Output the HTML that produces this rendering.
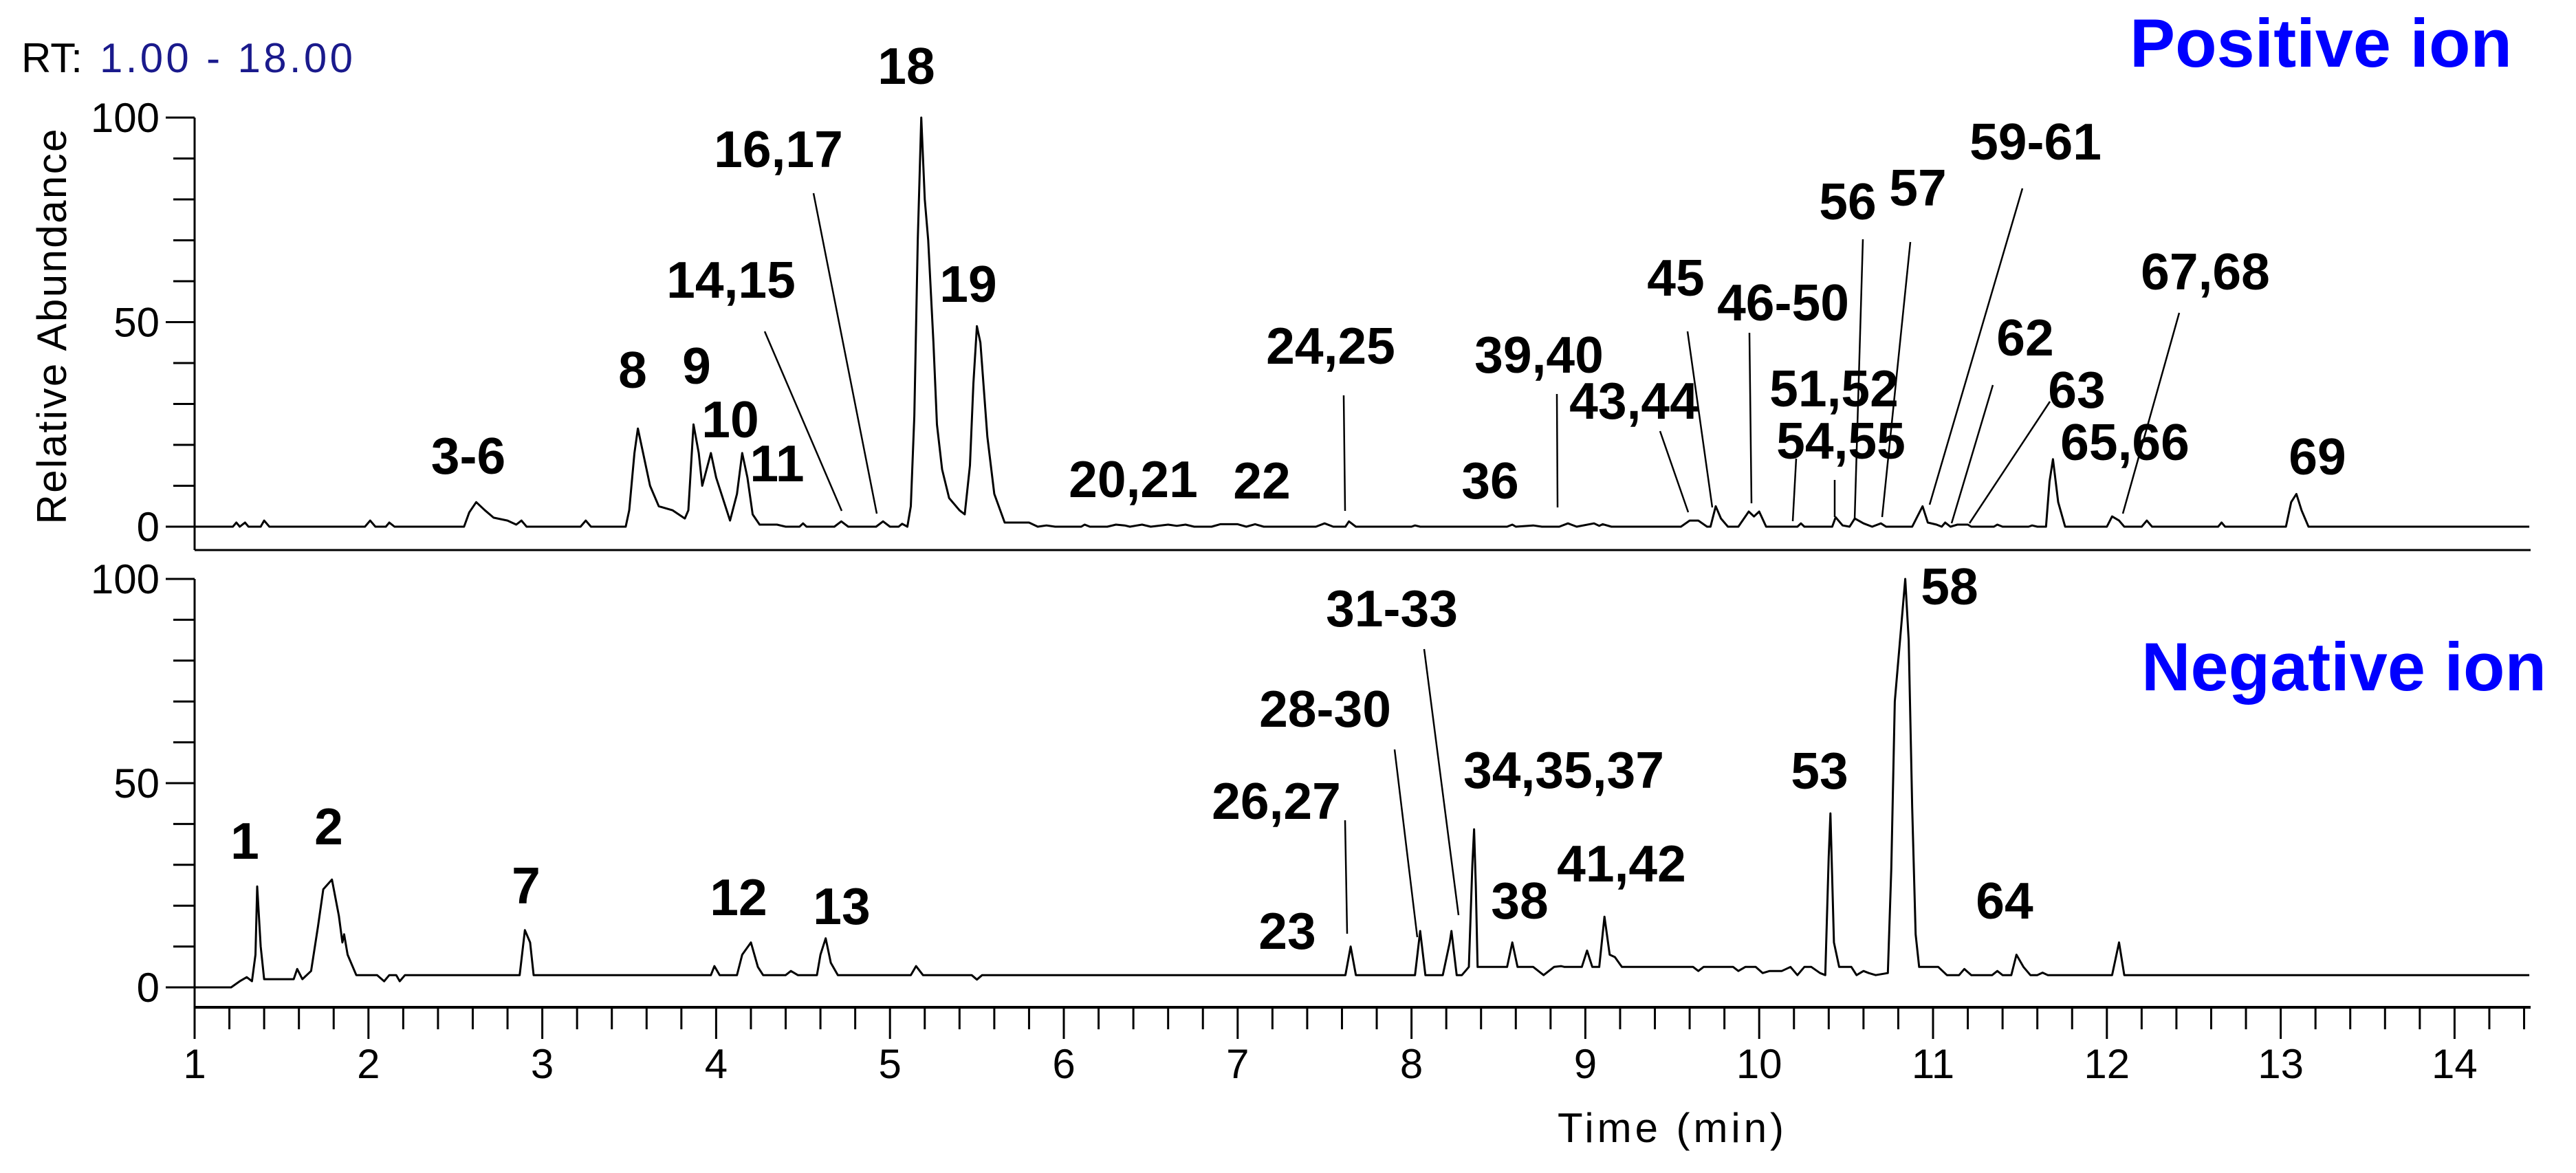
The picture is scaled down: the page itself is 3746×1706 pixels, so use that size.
<!DOCTYPE html>
<html><head><meta charset="utf-8">
<style>
html,body{margin:0;padding:0;background:#fff;}
svg{display:block;}
text{font-family:"Liberation Sans",Arial,sans-serif;}
.pk{font-weight:bold;font-size:75px;fill:#000;text-anchor:middle;}
.tk{font-size:60px;fill:#000;}
.ld{stroke:#000;stroke-width:2.5;fill:none;}
</style></head>
<body>
<svg id="chart" width="3746" height="1706" viewBox="0 0 3746 1706" xmlns="http://www.w3.org/2000/svg">
<rect width="3746" height="1706" fill="#fff"/>
<text x="31" y="105" class="tk">RT:</text>
<text x="145" y="105" class="tk" fill="#00008b" style="fill:#1a1a8c" textLength="368">1.00 - 18.00</text>
<text x="3097" y="97" font-size="99" font-weight="bold" fill="#0000ff" textLength="556">Positive ion</text>
<text x="3114" y="1004" font-size="99" font-weight="bold" fill="#0000ff" textLength="589">Negative ion</text>
<text transform="translate(96,475) rotate(-90)" text-anchor="middle" font-size="60" textLength="575">Relative Abundance</text>
<text x="2265" y="1661" font-size="60" textLength="329">Time (min)</text>

<g id="axes"></g>
<path id="posTrace" fill="none" stroke="#000" stroke-width="3" stroke-linejoin="round"/>
<path id="negTrace" fill="none" stroke="#000" stroke-width="3" stroke-linejoin="round"/>

<g>
<text class="pk" x="681" y="689">3-6</text>
<text class="pk" x="920" y="564">8</text>
<text class="pk" x="1013" y="558">9</text>
<text class="pk" x="1062" y="636">10</text>
<text class="pk" x="1130" y="700">11</text>
<text class="pk" x="1063" y="433">14,15</text>
<text class="pk" x="1132" y="243">16,17</text>
<text class="pk" x="1318" y="122">18</text>
<text class="pk" x="1408" y="439">19</text>
<text class="pk" x="1648" y="723">20,21</text>
<text class="pk" x="1835" y="725">22</text>
<text class="pk" x="1935" y="529">24,25</text>
<text class="pk" x="2167" y="725">36</text>
<text class="pk" x="2238" y="542">39,40</text>
<text class="pk" x="2376" y="609">43,44</text>
<text class="pk" x="2437" y="430">45</text>
<text class="pk" x="2593" y="466">46-50</text>
<text class="pk" x="2667" y="591">51,52</text>
<text class="pk" x="2677" y="667">54,55</text>
<text class="pk" x="2687" y="319">56</text>
<text class="pk" x="2789" y="299">57</text>
<text class="pk" x="2960" y="232">59-61</text>
<text class="pk" x="2945" y="517">62</text>
<text class="pk" x="3020" y="593">63</text>
<text class="pk" x="3090" y="669">65,66</text>
<text class="pk" x="3207" y="421" font-size="84">67,68</text>
<text class="pk" x="3370" y="690">69</text>
</g>
<g>
<line class="ld" x1="1112" y1="482" x2="1224" y2="743"/>
<line class="ld" x1="1183" y1="281" x2="1275" y2="747"/>
<line class="ld" x1="1954" y1="575" x2="1956" y2="743"/>
<line class="ld" x1="2264" y1="573" x2="2265" y2="738"/>
<line class="ld" x1="2414" y1="627" x2="2455" y2="745"/>
<line class="ld" x1="2454" y1="482" x2="2490" y2="738"/>
<line class="ld" x1="2544" y1="484" x2="2547" y2="732"/>
<line class="ld" x1="2612" y1="667" x2="2607" y2="758"/>
<line class="ld" x1="2668" y1="698" x2="2668" y2="752"/>
<line class="ld" x1="2709" y1="348" x2="2697" y2="756"/>
<line class="ld" x1="2778" y1="352" x2="2737" y2="752"/>
<line class="ld" x1="2941" y1="274" x2="2806" y2="734"/>
<line class="ld" x1="2898" y1="560" x2="2838" y2="761"/>
<line class="ld" x1="2981" y1="584" x2="2864" y2="761"/>
<line class="ld" x1="3169" y1="455" x2="3087" y2="747"/>
</g>
<g>
<text class="pk" x="356" y="1249">1</text>
<text class="pk" x="478" y="1228">2</text>
<text class="pk" x="765" y="1314">7</text>
<text class="pk" x="1074" y="1331">12</text>
<text class="pk" x="1224" y="1344">13</text>
<text class="pk" x="1872" y="1380">23</text>
<text class="pk" x="1856" y="1191">26,27</text>
<text class="pk" x="1927" y="1057">28-30</text>
<text class="pk" x="2024" y="911">31-33</text>
<text class="pk" x="2274" y="1146">34,35,37</text>
<text class="pk" x="2210" y="1336">38</text>
<text class="pk" x="2358" y="1282">41,42</text>
<text class="pk" x="2646" y="1147">53</text>
<text class="pk" x="2835" y="879">58</text>
<text class="pk" x="2915" y="1336">64</text>
</g>
<g>
<line class="ld" x1="1956" y1="1193" x2="1959" y2="1358"/>
<line class="ld" x1="2028" y1="1090" x2="2061" y2="1363"/>
<line class="ld" x1="2071" y1="944" x2="2121" y2="1331"/>
</g>
</svg>
<script>
// Positive ion trace (time min, relative abundance %)
var posTimes = [1.0,1.22,1.24,1.26,1.29,1.31,1.38,1.40,1.43,1.98,2.01,2.04,2.10,2.12,2.15,2.55,2.58,2.62,2.67,2.72,2.80,2.85,2.88,2.91,3.22,3.25,3.28,3.48,3.50,3.53,3.55,3.58,3.62,3.67,3.75,3.82,3.84,3.87,3.90,3.92,3.97,4.00,4.08,4.12,4.15,4.18,4.21,4.25,4.35,4.40,4.48,4.50,4.52,4.68,4.72,4.76,4.92,4.96,5.00,5.05,5.07,5.10,5.12,5.14,5.16,5.18,5.20,5.22,5.25,5.27,5.30,5.34,5.40,5.43,5.46,5.48,5.50,5.52,5.56,5.60,5.66,5.80,5.85,5.90,5.95,6.10,6.12,6.15,6.25,6.30,6.35,6.38,6.45,6.50,6.60,6.65,6.70,6.75,6.85,6.90,7.00,7.05,7.10,7.15,7.45,7.50,7.55,7.62,7.64,7.68,8.00,8.02,8.05,8.55,8.58,8.60,8.70,8.75,8.85,8.90,8.95,9.05,9.08,9.10,9.15,9.55,9.60,9.65,9.70,9.72,9.75,9.78,9.82,9.88,9.94,9.97,10.00,10.04,10.22,10.24,10.26,10.42,10.44,10.48,10.52,10.55,10.60,10.65,10.70,10.73,10.88,10.94,10.97,11.02,11.05,11.07,11.10,11.14,11.20,11.22,11.35,11.37,11.40,11.55,11.57,11.60,11.65,11.67,11.69,11.72,11.76,12.00,12.03,12.07,12.10,12.20,12.23,12.26,12.64,12.66,12.68,13.03,13.06,13.09,13.12,13.16,14.43];
var posValues = [0,0,1,0,1,0,0,1.5,0,0,1.5,0,0,1,0,0,3.5,6,4,2.2,1.5,0.5,1.5,0,0,1.5,0,0,4,18,24,18,10,5,4,2,4,25,18,10,18,12,1.5,8,18,12,3,0.5,0.5,0,0,0.8,0,0,1.3,0,0,1.3,0,0,0.7,0,5,27,70,100,80,70,45,25,14,7,4,3,15,35,49,45,22,8,1,1,0,0.3,0,0,0.5,0,0,0.5,0.3,0,0.5,0,0.5,0.2,0.5,0,0,0.6,0.6,0,0.6,0,0,0.8,0,0,1.3,0,0,0.3,0,0,0.5,0,0.3,0,0,0.8,0,0.8,0.2,0.6,0,0,1.5,1.5,0,0,5,2,0,0,3.7,2.5,3.7,0,0,0.8,0,0,2.3,0.3,0,2,0.8,0,0.8,0,0,5,1,0.5,0,1,0,0.5,0.5,0,0,0.5,0,0,0.3,0,0,11,16.5,6,0,0,2.5,1.5,0,0,1.5,0,0,1,0,0,6,8,4,0,0];
// Negative ion trace
var negTimes = [1.0,1.21,1.26,1.30,1.33,1.35,1.36,1.38,1.40,1.57,1.59,1.62,1.67,1.71,1.74,1.79,1.83,1.85,1.86,1.88,1.93,2.05,2.09,2.12,2.16,2.18,2.21,2.87,2.90,2.93,2.95,3.97,3.99,4.02,4.12,4.15,4.20,4.24,4.27,4.40,4.43,4.47,4.58,4.60,4.63,4.66,4.70,5.12,5.15,5.19,5.47,5.50,5.53,7.62,7.65,7.68,8.02,8.05,8.08,8.18,8.22,8.23,8.26,8.29,8.33,8.35,8.36,8.37,8.38,8.55,8.58,8.61,8.70,8.76,8.82,8.86,8.88,8.98,9.01,9.04,9.08,9.11,9.14,9.17,9.21,9.62,9.65,9.68,9.85,9.88,9.92,9.98,10.02,10.06,10.13,10.18,10.22,10.26,10.30,10.35,10.38,10.40,10.41,10.43,10.46,10.53,10.56,10.60,10.63,10.67,10.74,10.76,10.78,10.84,10.86,10.88,10.90,10.92,11.03,11.08,11.15,11.18,11.22,11.34,11.37,11.40,11.45,11.48,11.52,11.56,11.60,11.63,11.66,12.03,12.07,12.10,14.43];
var negValues = [0,0,1.5,2.5,1.5,8,24.7,10,2,2,4.5,2,4,15,24,26.4,17.5,11,13,8,3,3,1.5,3,3,1.5,3,3,14,11,3,3,5.2,3,3,8,11,5,3,3,4,3,3,8,12,6,3,3,5.2,3,3,1.9,3,3,10,3,3,13.8,3,3,11,13.8,3,3,5,30,38.7,25,5,5,11,5,5,3,5,5.2,5,5,9,5,5,17.3,8,7.4,5,5,4,5,5,4,5,5,3.5,4,4,5,3,5,5,3.5,3,32,42.6,11,5,5,3,4,3.5,3,3.5,29,70,100,85,44,13,5,5,3,3,4.5,3,3,4,3,3,8,5,3,3,3.6,3,3,11,3,3];
var xTickLabels = ["1","2","3","4","5","6","7","8","9","10","11","12","13","14"];
var yTickLabels = ["0","50","100"];

var NS = "http://www.w3.org/2000/svg";
function xScale(t){ return 283 + (t - 1) * 252.8; }
function yPos(v){ return 766 - v * 5.95; }
function yNeg(v){ return 1436 - v * 5.94; }
function buildPath(ts, vs, ys){
  var d = "";
  for (var i = 0; i < ts.length; i++) d += (i ? "L" : "M") + xScale(ts[i]).toFixed(1) + "," + ys(vs[i]).toFixed(1);
  return d;
}
document.getElementById("posTrace").setAttribute("d", buildPath(posTimes, posValues, yPos));
document.getElementById("negTrace").setAttribute("d", buildPath(negTimes, negValues, yNeg));

var axes = document.getElementById("axes");
function mk(tag, attrs){
  var e = document.createElementNS(NS, tag);
  for (var k in attrs) e.setAttribute(k, attrs[k]);
  axes.appendChild(e);
  return e;
}
var el;
el = mk("line", {x1:283, y1:171, x2:283, y2:800, stroke:"#000", "stroke-width":3});


el = mk("line", {x1:283, y1:800, x2:3680, y2:800, stroke:"#000", "stroke-width":3});


el = mk("line", {x1:283, y1:842, x2:283, y2:1466, stroke:"#000", "stroke-width":3});


el = mk("line", {x1:283, y1:1465, x2:3680, y2:1465, stroke:"#000", "stroke-width":4});



// y ticks both panels
var panels = [yPos, yNeg];
for (var p = 0; p < 2; p++) {
  for (var v = 0; v <= 100; v += 10) {
    var major = (v % 50 === 0);
    var y = panels[p](v);
    el = mk("line", {x1: major ? 241 : 252, y1:y, x2:283, y2:y, stroke:"#000", "stroke-width":3});
    
    
  }
  for (var j = 0; j < yTickLabels.length; j++) {
    var val = parseFloat(yTickLabels[j]);
    el = mk("text", {x:232, y:panels[p](val) + 21, "text-anchor":"end", "font-size":60});
    el.textContent = yTickLabels[j];
    
    
  }
}
// x ticks every 0.2 min
for (var k = 0; k <= 67; k++) {
  var t = 1 + k * 0.2;
  if (t > 14.45) break;
  var isMajor = (k % 5 === 0);
  var xx = xScale(t);
  el = mk("line", {x1:xx, y1:1465, x2:xx, y2: isMajor ? 1511 : 1497, stroke:"#000", "stroke-width":3});
  
  
}
for (var m = 0; m < xTickLabels.length; m++) {
  var tv = parseFloat(xTickLabels[m]);
  el = mk("text", {x:xScale(tv), y:1568, "text-anchor":"middle", "font-size":60});
  el.textContent = xTickLabels[m];
  
  
}
</script>
</body></html>
